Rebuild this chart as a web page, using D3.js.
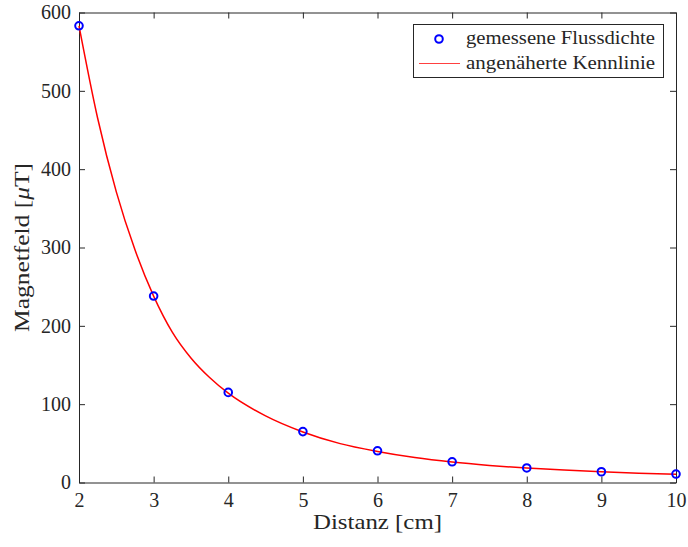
<!DOCTYPE html>
<html>
<head>
<meta charset="utf-8">
<script src="https://cdn.jsdelivr.net/npm/d3@7"></script>
<style>
  html, body { margin: 0; padding: 0; background: #fff; }
  svg { display: block; }
</style>
</head>
<body>
<svg id="chart" width="688" height="547"></svg>
<script>
// Measured data
const distances = [2, 3, 4, 5, 6, 7, 8, 9, 10];
const fluxValues = [583, 238, 115, 65, 40.5, 26.4, 18.6, 13.7, 10.8];

// Fitted characteristic curve
const fitX = [2, 2.25, 2.5, 2.75, 3, 3.25, 3.5, 3.75, 4, 4.5, 5, 5.5, 6, 6.5, 7, 7.5, 8, 8.5, 9, 9.5, 10];
const fitY = [583, 465, 371, 297, 238, 192, 159, 134, 114, 85, 64.5, 49.6, 39.6, 31.8, 26.1, 21.8, 18.4, 15.8, 13.7, 11.9, 10.4];

// Ticks and labels
const xTicks = [2, 3, 4, 5, 6, 7, 8, 9, 10];
const yTicks = [0, 100, 200, 300, 400, 500, 600];
const xLabel = "Distanz [cm]";
const legendLabels = ["gemessene Flussdichte", "angenäherte Kennlinie"];

const svg = d3.select("#chart");
const W = 688, H = 547;
const m = { left: 79, right: 676, top: 12.5, bottom: 482.5 };
const axisColor = "#262626";
const font = "'Liberation Serif', 'Times New Roman', serif";

svg.append("rect").attr("width", W).attr("height", H).attr("fill", "#fff");

const x = d3.scaleLinear().domain([2, 10]).range([m.left, m.right]);
const y = d3.scaleLinear().domain([0, 600]).range([m.bottom, m.top]);

function styleAxis(g, withText) {
  g.selectAll("path.domain").attr("stroke", axisColor).attr("stroke-width", 1);
  g.selectAll(".tick line").attr("stroke", axisColor).attr("stroke-width", 1);
  if (withText) {
    g.selectAll(".tick text").attr("fill", axisColor)
      .style("font-family", font).style("font-size", "20px");
  } else {
    g.selectAll(".tick text").remove();
  }
}

// Bottom axis
const gx = svg.append("g").attr("transform", `translate(0,${m.bottom})`)
  .call(d3.axisBottom(x).tickValues(xTicks).tickFormat(d3.format("d"))
    .tickSize(-6).tickSizeOuter(0).tickPadding(10.5));
styleAxis(gx, true);

// Top axis (ticks only)
const gxt = svg.append("g").attr("transform", `translate(0,${m.top})`)
  .call(d3.axisTop(x).tickValues(xTicks).tickSize(-6).tickSizeOuter(0));
styleAxis(gxt, false);

// Left axis
const gy = svg.append("g").attr("transform", `translate(${m.left},0)`)
  .call(d3.axisLeft(y).tickValues(yTicks).tickFormat(d3.format("d"))
    .tickSize(-6).tickSizeOuter(0).tickPadding(8));
styleAxis(gy, true);

// Right axis (ticks only)
const gyr = svg.append("g").attr("transform", `translate(${m.right},0)`)
  .call(d3.axisRight(y).tickValues(yTicks).tickSize(-6).tickSizeOuter(0));
styleAxis(gyr, false);

// Fitted curve
const line = d3.line().x((d, i) => x(fitX[i])).y(d => y(d)).curve(d3.curveMonotoneX);
svg.append("path").datum(fitY).attr("d", line)
  .attr("fill", "none").attr("stroke", "#ff0000").attr("stroke-width", 1.5);

// Measured points
svg.append("g").selectAll("circle").data(fluxValues).join("circle")
  .attr("cx", (d, i) => x(distances[i])).attr("cy", d => y(d))
  .attr("r", 3.8).attr("fill", "none").attr("stroke", "#0000ff").attr("stroke-width", 2);

// Axis labels
svg.append("text").attr("x", (m.left + m.right) / 2).attr("y", 529)
  .attr("text-anchor", "middle").attr("fill", axisColor)
  .attr("textLength", 129).attr("lengthAdjust", "spacingAndGlyphs")
  .style("font-family", font).style("font-size", "22px").text(xLabel);

const yl = svg.append("text")
  .attr("transform", `translate(29,${(m.top + m.bottom) / 2}) rotate(-90)`)
  .attr("text-anchor", "middle").attr("fill", axisColor)
  .attr("textLength", 169).attr("lengthAdjust", "spacingAndGlyphs")
  .style("font-family", font).style("font-size", "22px");
yl.append("tspan").text("Magnetfeld [");
yl.append("tspan").attr("font-style", "italic").text("μ");
yl.append("tspan").text("T]");

// Legend
const lg = svg.append("g");
lg.append("rect").attr("x", 413.5).attr("y", 24.5).attr("width", 250).attr("height", 53)
  .attr("fill", "#fff").attr("stroke", axisColor).attr("stroke-width", 1);
lg.append("circle").attr("cx", 439).attr("cy", 39).attr("r", 3.8)
  .attr("fill", "none").attr("stroke", "#0000ff").attr("stroke-width", 2);
lg.append("line").attr("x1", 419).attr("x2", 460).attr("y1", 63.5).attr("y2", 63.5)
  .attr("stroke", "#ff4040").attr("stroke-width", 1.2);
lg.selectAll("text.leg").data(legendLabels).join("text").attr("class", "leg")
  .attr("x", 466).attr("y", (d, i) => 44 + i * 24.7)
  .attr("fill", axisColor)
  .attr("textLength", 189).attr("lengthAdjust", "spacingAndGlyphs")
  .style("font-family", font).style("font-size", "19px").text(d => d);
</script>
</body>
</html>
